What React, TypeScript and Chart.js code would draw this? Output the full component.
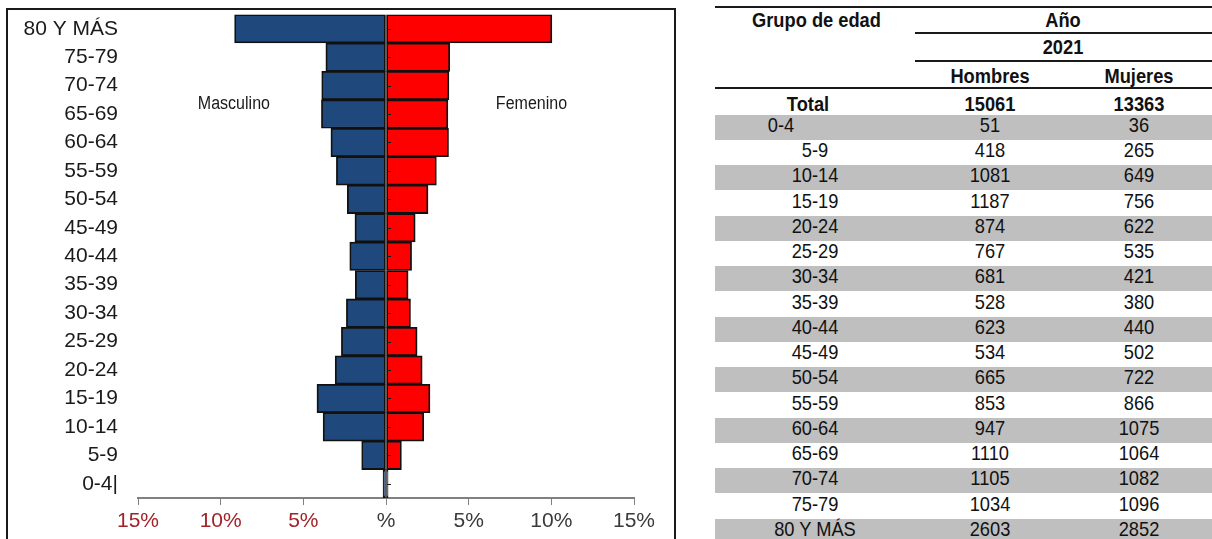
import React, { useEffect, useRef } from 'react';
import { Chart, registerables } from 'chart.js';

Chart.register(...registerables);

// ---- Data ----
const grupos = ['0-4', '5-9', '10-14', '15-19', '20-24', '25-29', '30-34', '35-39', '40-44', '45-49', '50-54', '55-59', '60-64', '65-69', '70-74', '75-79', '80 Y MÁS'];
const etiquetasPiramide = ['0-4|', '5-9', '10-14', '15-19', '20-24', '25-29', '30-34', '35-39', '40-44', '45-49', '50-54', '55-59', '60-64', '65-69', '70-74', '75-79', '80 Y MÁS'];
const hombres = [51, 418, 1081, 1187, 874, 767, 681, 528, 623, 534, 665, 853, 947, 1110, 1105, 1034, 2603];
const mujeres = [36, 265, 649, 756, 622, 535, 421, 380, 440, 502, 722, 866, 1075, 1064, 1082, 1096, 2852];
const totalHombres = 15061;
const totalMujeres = 13363;
const anio = '2021';
const serieNombres = ['Masculino', 'Femenino'];
const encabezados = { grupo: 'Grupo de edad', anioTitulo: 'Año', hombres: 'Hombres', mujeres: 'Mujeres', total: 'Total' };

const FONT = "'Liberation Sans', Arial, Helvetica, sans-serif";

function Piramide() {
  const ref = useRef<HTMLCanvasElement>(null);
  useEffect(() => {
    if (!ref.current) return;
    const total = totalHombres + totalMujeres;
    const pctH = hombres.map((v) => -(v / total) * 100);
    const pctM = mujeres.map((v) => (v / total) * 100);

    const anotaciones = {
      id: 'anotaciones',
      afterDatasetsDraw(chart: any) {
        const { ctx } = chart;
        const x = chart.scales.x;
        const y = chart.scales.y;
        const x0 = x.getPixelForValue(0);
        ctx.save();
        ctx.strokeStyle = '#1a1a1a';
        ctx.lineWidth = 1;
        for (let i = 0; i < grupos.length; i++) {
          const py = Math.round(y.getPixelForValue(i)) + 0.5;
          ctx.beginPath();
          ctx.moveTo(x0 + 1, py);
          ctx.lineTo(x0 + 5, py);
          ctx.stroke();
        }
        ctx.fillStyle = '#1a1a1a';
        ctx.font = `18px ${FONT}`;
        ctx.textAlign = 'center';
        ctx.textBaseline = 'middle';
        const py = y.getPixelForValue(13.35);
        const items: [number, string][] = [[-9.2, serieNombres[0]], [8.8, serieNombres[1]]];
        items.forEach(([v, t]) => {
          ctx.save();
          ctx.translate(x.getPixelForValue(v), py);
          ctx.scale(0.89, 1);
          ctx.fillText(t, 0, 0);
          ctx.restore();
        });
        ctx.restore();
      },
    };

    const chart = new Chart(ref.current, {
      type: 'bar',
      data: {
        labels: etiquetasPiramide,
        datasets: [
          {
            label: serieNombres[0],
            data: pctH,
            backgroundColor: '#1f497d',
            borderColor: '#111111',
            borderWidth: 1.8,
            borderSkipped: false,
            barPercentage: 1,
            categoryPercentage: 1,
          },
          {
            label: serieNombres[1],
            data: pctM,
            backgroundColor: '#ff0000',
            borderColor: '#111111',
            borderWidth: 1.8,
            borderSkipped: false,
            barPercentage: 1,
            categoryPercentage: 1,
          },
        ],
      },
      options: {
        indexAxis: 'y',
        animation: false,
        responsive: true,
        maintainAspectRatio: false,
        layout: { padding: { left: 8, right: 66, top: 14.5, bottom: 0 } },
        plugins: { legend: { display: false }, tooltip: { enabled: false } },
        scales: {
          x: {
            stacked: true,
            min: -15,
            max: 15,
            ticks: {
              stepSize: 5,
              autoSkip: false,
              maxRotation: 0,
              padding: 4,
              font: { family: FONT, size: 21 },
              color: (c: any) => (c.tick && c.tick.value < 0 ? '#a3222a' : '#3a3a3a'),
              callback: (v: any) => (Number(v) === 0 ? '%' : Math.abs(Number(v)) + '%'),
            },
            grid: { drawOnChartArea: false, drawTicks: true, tickLength: 7, color: '#808080', lineWidth: 1 },
            border: { display: true, color: '#808080', width: 2 },
            afterFit: (s: any) => {
              s.height = 41;
              s.paddingLeft = 0;
              s.paddingRight = 0;
            },
          },
          y: {
            stacked: true,
            reverse: true,
            ticks: { color: '#1a1a1a', font: { family: FONT, size: 21 }, padding: 20, autoSkip: false },
            grid: { display: false, drawTicks: false },
            border: { display: false },
            afterFit: (s: any) => {
              s.width = 130;
              s.paddingTop = 0;
              s.paddingBottom = 0;
            },
          },
        },
      },
      plugins: [anotaciones],
    } as any);
    return () => chart.destroy();
  }, []);

  return (
    <div style={{ position: 'absolute', left: 0, top: 0, width: 700, height: 539 }}>
      <canvas ref={ref} />
    </div>
  );
}

function Txt(props: { x: number; cy: number; bold?: boolean; left?: boolean; children: any }) {
  const { x, cy, bold, left, children } = props;
  return (
    <div
      style={{
        position: 'absolute',
        left: x,
        top: cy - 12,
        height: 24,
        lineHeight: '24px',
        fontSize: 21,
        fontFamily: FONT,
        fontWeight: bold ? 700 : 400,
        whiteSpace: 'nowrap',
        color: '#111',
        transform: left ? 'scaleX(0.87)' : 'translateX(-50%) scaleX(0.87)',
        transformOrigin: left ? 'left center' : 'center center',
      }}
    >
      {children}
    </div>
  );
}

function Linea(props: { x1: number; x2: number; y: number; h: number }) {
  return (
    <div style={{ position: 'absolute', left: props.x1, top: props.y, width: props.x2 - props.x1, height: props.h, background: '#1a1a1a' }} />
  );
}

function Tabla() {
  const colG = 815;
  const colH = 990;
  const colM = 1139;
  const rowTop = 114.5;
  const rowH = 25.25;
  return (
    <>
      <Linea x1={715} x2={1212} y={6} h={2} />
      <Linea x1={915} x2={1212} y={32} h={2} />
      <Linea x1={915} x2={1212} y={60} h={2} />
      <Linea x1={715} x2={1212} y={87} h={1.5} />
      <Txt x={752} cy={19.5} bold left>{encabezados.grupo}</Txt>
      <Txt x={1063} cy={19.5} bold>{encabezados.anioTitulo}</Txt>
      <Txt x={1063} cy={47} bold>{anio}</Txt>
      <Txt x={colH} cy={75.5} bold>{encabezados.hombres}</Txt>
      <Txt x={colM} cy={75.5} bold>{encabezados.mujeres}</Txt>
      <Txt x={808} cy={103.5} bold>{encabezados.total}</Txt>
      <Txt x={colH} cy={103.5} bold>{totalHombres}</Txt>
      <Txt x={colM} cy={103.5} bold>{totalMujeres}</Txt>
      {grupos.map((g, i) => {
        const top = rowTop + i * rowH;
        const cy = top + 10.3;
        return (
          <React.Fragment key={g}>
            {i % 2 === 0 && (
              <div style={{ position: 'absolute', left: 715, top, width: 497, height: rowH, background: '#bfbfbf' }} />
            )}
            <Txt x={i === 0 ? 781 : colG} cy={cy}>{g}</Txt>
            <Txt x={colH} cy={cy}>{hombres[i]}</Txt>
            <Txt x={colM} cy={cy}>{mujeres[i]}</Txt>
          </React.Fragment>
        );
      })}
    </>
  );
}

export default function App() {
  return (
    <div style={{ position: 'fixed', left: 0, top: 0, width: 1212, height: 539, overflow: 'hidden', background: '#fff' }}>
      <div style={{ position: 'absolute', left: 6, top: 8, width: 670, height: 600, border: '2px solid #1a1a1a', boxSizing: 'border-box' }} />
      <Piramide />
      <Tabla />
    </div>
  );
}
